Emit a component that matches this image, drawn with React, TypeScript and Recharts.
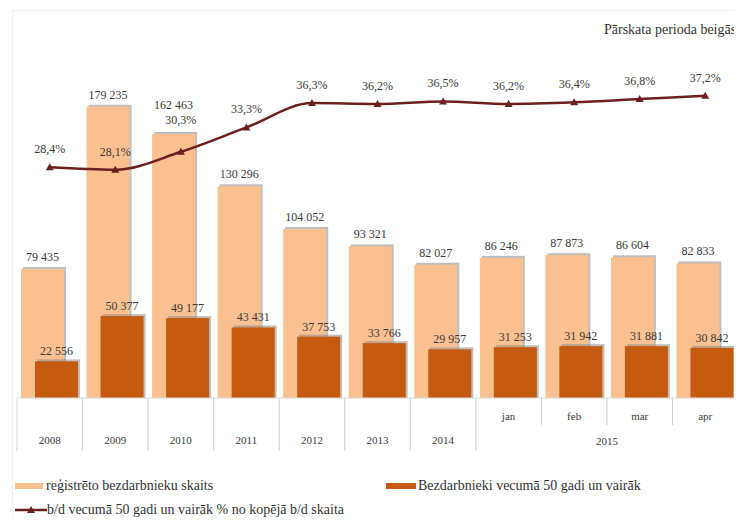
import React from 'react'
import { ComposedChart, Bar, Line, XAxis, YAxis, LabelList } from 'recharts'

const categories = ['2008', '2009', '2010', '2011', '2012', '2013', '2014', 'jan', 'feb', 'mar', 'apr']
const yearGroups = ['2008', '2009', '2010', '2011', '2012', '2013', '2014', '2015', '2015', '2015', '2015']
const registered = [79435, 179235, 162463, 130296, 104052, 93321, 82027, 86246, 87873, 86604, 82833]
const over50 = [22556, 50377, 49177, 43431, 37753, 33766, 29957, 31253, 31942, 31881, 30842]
const over50Share = [28.4, 28.1, 30.3, 33.3, 36.3, 36.2, 36.5, 36.2, 36.4, 36.8, 37.2]

const data = categories.map((c, i) => ({
  cat: c,
  registered: registered[i],
  over50: over50[i],
  share: over50Share[i],
}))

const W = 734
const H = 510
const M = { top: 65, right: 4, bottom: 60, left: 9 }
const HALF_BAND = (W - M.left - M.right) / categories.length / 2

const LIGHT = '#FAC090'
const DARK = '#C55A11'
const LINE = '#6B1F1F'
const GRID = '#c9d0d8'
const TEXT = '#3a3a3a'
const FONT = '"Liberation Serif", "Times New Roman", serif'

const fmtThousands = (v: number) => String(v).replace(/\B(?=(\d{3})+(?!\d))/g, ' ')
const fmtPct = (v: number) => v.toFixed(1).replace('.', ',') + '%'

function ShadowBar(props: any) {
  const { x, y, width, height, fill } = props
  if (!height) return null
  return (
    <g>
      <rect x={x + 2} y={y - 2} width={width} height={height + 2} fill="#8a8a8a" fillOpacity={0.55} />
      <rect x={x} y={y} width={width} height={height} fill={fill} />
    </g>
  )
}

function TriangleDot(props: any) {
  const { cx, cy } = props
  if (cx == null || cy == null) return null
  return <path d={`M${cx},${cy - 4} L${cx + 4},${cy + 3} L${cx - 4},${cy + 3} Z`} fill={LINE} />
}

function CategoryTick(props: any) {
  const { x, y, payload, index } = props
  const h = HALF_BAND
  const group = yearGroups[index]
  const isYear = group === categories[index]
  const first = index === 0 || yearGroups[index - 1] !== group
  const last = index === categories.length - 1
  const full = 53
  const txt = { fontSize: 11, fill: TEXT, fontFamily: FONT, textAnchor: 'middle' as const }
  const count = yearGroups.filter((g) => g === group).length
  return (
    <g>
      <line x1={x - h} x2={x - h} y1={y} y2={y + (first ? full : 27)} stroke={GRID} />
      {last && <line x1={x + h} x2={x + h} y1={y} y2={y + full} stroke={GRID} />}
      {isYear ? (
        <text x={x} y={y + 46} {...txt}>{payload.value}</text>
      ) : (
        <text x={x} y={y + 22} {...txt}>{payload.value}</text>
      )}
      {!isYear && first && (
        <text x={x - h + count * h} y={y + 47} {...txt}>{group}</text>
      )}
    </g>
  )
}

const regLabel = (p: any) => {
  const { x, y, width, value, index } = p
  const lift = index === 2 ? 25 : 8
  return (
    <text x={Number(x) + Number(width) / 2} y={Number(y) - lift} textAnchor="middle" fontSize={12} fill={TEXT} fontFamily={FONT}>
      {fmtThousands(value)}
    </text>
  )
}

const over50Label = (p: any) => {
  const { x, y, width, value } = p
  return (
    <text x={Number(x) + Number(width) / 2} y={Number(y) - 6} textAnchor="middle" fontSize={12} fill={TEXT} fontFamily={FONT}>
      {fmtThousands(value)}
    </text>
  )
}

const shareLabel = (p: any) => {
  const { x, y, value, index } = p
  const lift = index === 2 ? 28 : 14
  return (
    <text x={Number(x)} y={Number(y) - lift} textAnchor="middle" fontSize={12} fill={TEXT} fontFamily={FONT}>
      {fmtPct(value)}
    </text>
  )
}

const legendText: React.CSSProperties = {
  position: 'absolute',
  fontFamily: FONT,
  fontSize: 14,
  color: '#333',
  whiteSpace: 'nowrap',
  lineHeight: '16px',
}

export default function App() {
  return (
    <div style={{ position: 'relative', width: W, height: H, overflow: 'hidden', background: '#fff' }}>
      <div style={{ position: 'absolute', left: 4, top: 2, width: W, height: H, border: '1px solid #f0f0f0' }} />
      <ComposedChart width={W} height={H} data={data} margin={M} barGap={-29}>
        <XAxis
          dataKey="cat"
          height={60}
          interval={0}
          tickSize={0}
          tickMargin={0}
          tickLine={false}
          axisLine={{ stroke: '#d9d9d9' }}
          tick={<CategoryTick />}
        />
        <YAxis yAxisId="left" domain={[0, 200000]} hide />
        <YAxis yAxisId="right" orientation="right" domain={[0, 40]} hide />
        <Bar yAxisId="left" dataKey="registered" fill={LIGHT} barSize={43} shape={<ShadowBar />} isAnimationActive={false}>
          <LabelList dataKey="registered" content={regLabel} />
        </Bar>
        <Bar yAxisId="left" dataKey="over50" fill={DARK} barSize={43} shape={<ShadowBar />} isAnimationActive={false}>
          <LabelList dataKey="over50" content={over50Label} />
        </Bar>
        <Line
          yAxisId="right"
          type="monotone"
          dataKey="share"
          stroke={LINE}
          strokeWidth={2.5}
          dot={(p: any) => <TriangleDot key={p.index} {...p} />}
          activeDot={false}
          isAnimationActive={false}
        >
          <LabelList dataKey="share" content={shareLabel} />
        </Line>
      </ComposedChart>

      <div style={{ ...legendText, left: 596, top: 14 }}>Pārskata perioda beigās</div>

      <div style={{ position: 'absolute', left: 7, top: 475, width: 28, height: 6, background: LIGHT }} />
      <div style={{ ...legendText, left: 38, top: 470 }}>reģistrēto bezdarbnieku skaits</div>

      <div style={{ position: 'absolute', left: 378, top: 475, width: 30, height: 6, background: DARK }} />
      <div style={{ ...legendText, left: 410, top: 470 }}>Bezdarbnieki vecumā 50 gadi un vairāk</div>

      <svg style={{ position: 'absolute', left: 7, top: 496 }} width={32} height={12}>
        <line x1={0} x2={32} y1={6} y2={6} stroke={LINE} strokeWidth={2.5} />
        <path d="M16,2 L20,9 L12,9 Z" fill={LINE} />
      </svg>
      <div style={{ ...legendText, left: 39, top: 494 }}>b/d vecumā 50 gadi un vairāk % no kopējā b/d skaita</div>
    </div>
  )
}
